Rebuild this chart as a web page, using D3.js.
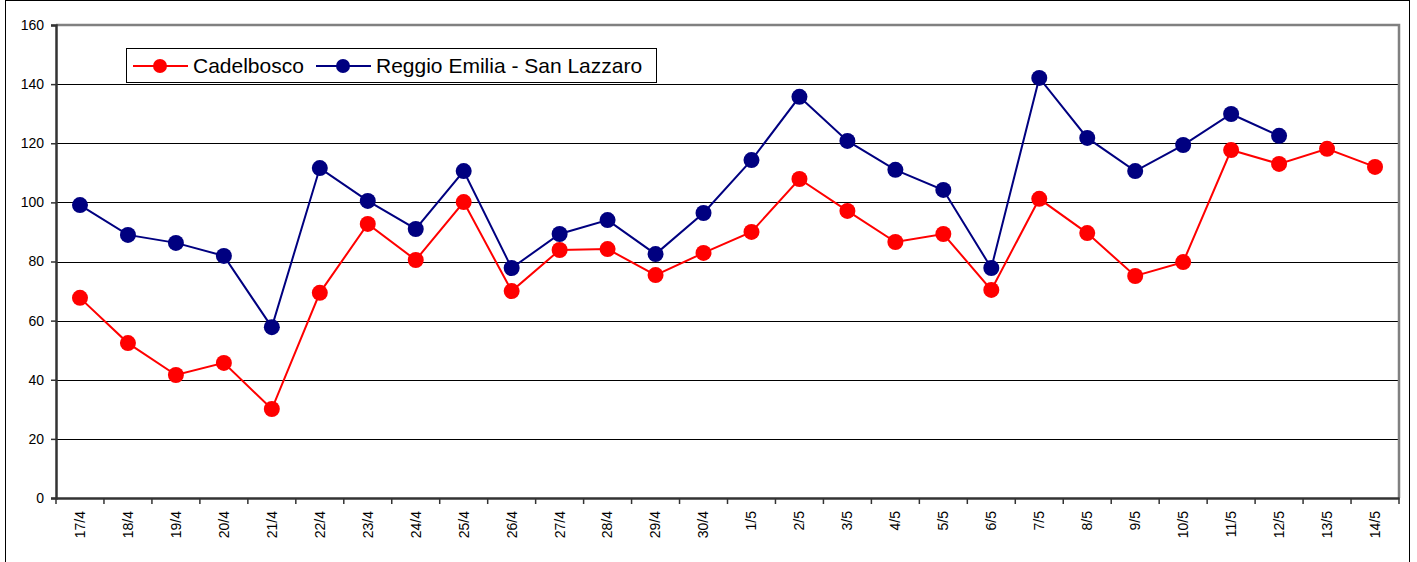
<!DOCTYPE html>
<html>
<head>
<meta charset="utf-8">
<script src="https://cdn.jsdelivr.net/npm/d3@7"></script>
<style>
  body { margin: 0; background: #fff; }
  svg { display: block; font-family: "Liberation Sans", Arial, sans-serif; }
</style>
</head>
<body>
<svg id="chart" width="1417" height="562"></svg>
<script>
const days = ['17/4', '18/4', '19/4', '20/4', '21/4', '22/4', '23/4', '24/4', '25/4', '26/4',
  '27/4', '28/4', '29/4', '30/4', '1/5', '2/5', '3/5', '4/5', '5/5', '6/5',
  '7/5', '8/5', '9/5', '10/5', '11/5', '12/5', '13/5', '14/5']

const cadelbosco = [67.7, 52.4, 41.6, 45.7, 30.1, 69.4, 92.7, 80.5, 100.1, 70.0,
  83.9, 84.2, 75.4, 82.9, 90.0, 107.9, 97.1, 86.6, 89.3, 70.4,
  101.2, 89.6, 75.1, 79.8, 117.7, 113.0, 118.1, 112.0]

const reggio = [99.1, 89.0, 86.3, 81.9, 57.8, 111.6, 100.5, 91.0, 110.6, 77.8,
  89.3, 94.0, 82.5, 96.4, 114.3, 135.7, 120.8, 111.0, 104.2, 77.8,
  142.1, 121.8, 110.6, 119.4, 129.9, 122.5, null, null]

const yTicks = [0, 20, 40, 60, 80, 100, 120, 140, 160]

const series = [
  { name: 'Cadelbosco', values: cadelbosco, color: '#ff0000' },
  { name: 'Reggio Emilia - San Lazzaro', values: reggio, color: '#000080' }
]

const svg = d3.select('#chart')
const plotLeft = 56
const plotRight = 1399
const plotTop = 25
const plotBottom = 498

// outer frame
svg.append('rect')
    .attr('x', 5.5).attr('y', 0.5)
    .attr('width', 1404).attr('height', 570)
    .attr('fill', 'none').attr('stroke', '#000').attr('stroke-width', 1)

let x = d3.scaleBand().domain(days).range([plotLeft, plotRight])
let y = d3.scaleLinear().domain([0, 160]).range([plotBottom, plotTop])

// gridlines
svg.append('g')
  .selectAll('line')
  .data(yTicks.filter(d => d > 0 && d < 160))
  .enter().append('line')
    .attr('x1', plotLeft).attr('x2', plotRight)
    .attr('y1', d => Math.round(y(d)) + 0.5).attr('y2', d => Math.round(y(d)) + 0.5)
    .attr('stroke', '#000').attr('stroke-width', 1)

// plot border (top / right)
svg.append('path')
    .attr('d', `M${plotLeft},${plotTop}H${plotRight}V${plotBottom}`)
    .attr('fill', 'none').attr('stroke', '#808080').attr('stroke-width', 2.5)

// y axis
let yAxis = svg.append('g')
    .attr('transform', `translate(${plotLeft},0)`)
    .call(d3.axisLeft(y).tickValues(yTicks).tickSize(5).tickPadding(7))
yAxis.select('.domain').attr('stroke', '#333').attr('stroke-width', 2.5)
yAxis.selectAll('.tick line').attr('stroke', '#333').attr('stroke-width', 1.5)
yAxis.selectAll('text').attr('font-size', 14).attr('fill', '#000')
    .attr('font-family', '"Liberation Sans", Arial, sans-serif')

// x axis
let xAxis = svg.append('g')
    .attr('transform', `translate(0,${plotBottom})`)
    .call(d3.axisBottom(x).tickSize(0).tickPadding(0))
xAxis.select('.domain').attr('stroke', '#333').attr('stroke-width', 2.5)
xAxis.selectAll('.tick text')
    .attr('font-size', 14).attr('fill', '#000')
    .attr('font-family', '"Liberation Sans", Arial, sans-serif')
    .attr('transform', 'rotate(-90)')
    .attr('text-anchor', 'end')
    .attr('x', -13).attr('y', 0).attr('dy', '0.35em')

// category boundary ticks
xAxis.append('g')
  .selectAll('line')
  .data(days.map(d => x(d)).concat([plotRight]))
  .enter().append('line')
    .attr('x1', d => d).attr('x2', d => d)
    .attr('y1', 0).attr('y2', 6)
    .attr('stroke', '#333').attr('stroke-width', 1.5)

// lines and markers
let line = d3.line()
    .defined(d => d[1] != null)
    .x(d => x(d[0]) + x.bandwidth() / 2)
    .y(d => y(d[1]))

series.forEach(s => {
  let pts = days.map((d, i) => [d, s.values[i]])
  let g = svg.append('g')
  g.append('path')
      .attr('d', line(pts))
      .attr('fill', 'none').attr('stroke', s.color).attr('stroke-width', 2)
  g.selectAll('circle')
    .data(pts.filter(p => p[1] != null))
    .enter().append('circle')
      .attr('cx', p => x(p[0]) + x.bandwidth() / 2)
      .attr('cy', p => y(p[1]))
      .attr('r', 8)
      .attr('fill', s.color)
})

// legend
let legend = svg.append('g')
legend.append('rect')
    .attr('x', 126.5).attr('y', 48.5)
    .attr('width', 530).attr('height', 34)
    .attr('fill', '#fff').attr('stroke', '#000').attr('stroke-width', 1)

let legendItems = [
  { s: series[0], x0: 133 },
  { s: series[1], x0: 316 }
]
legendItems.forEach(item => {
  let cy = 66
  legend.append('line')
      .attr('x1', item.x0).attr('x2', item.x0 + 55)
      .attr('y1', cy).attr('y2', cy)
      .attr('stroke', item.s.color).attr('stroke-width', 2)
  legend.append('circle')
      .attr('cx', item.x0 + 27).attr('cy', cy).attr('r', 7)
      .attr('fill', item.s.color)
  legend.append('text')
      .attr('x', item.x0 + 60).attr('y', cy)
      .attr('dy', '0.35em')
      .attr('font-size', 21)
      .text(item.s.name)
})
</script>
</body>
</html>
